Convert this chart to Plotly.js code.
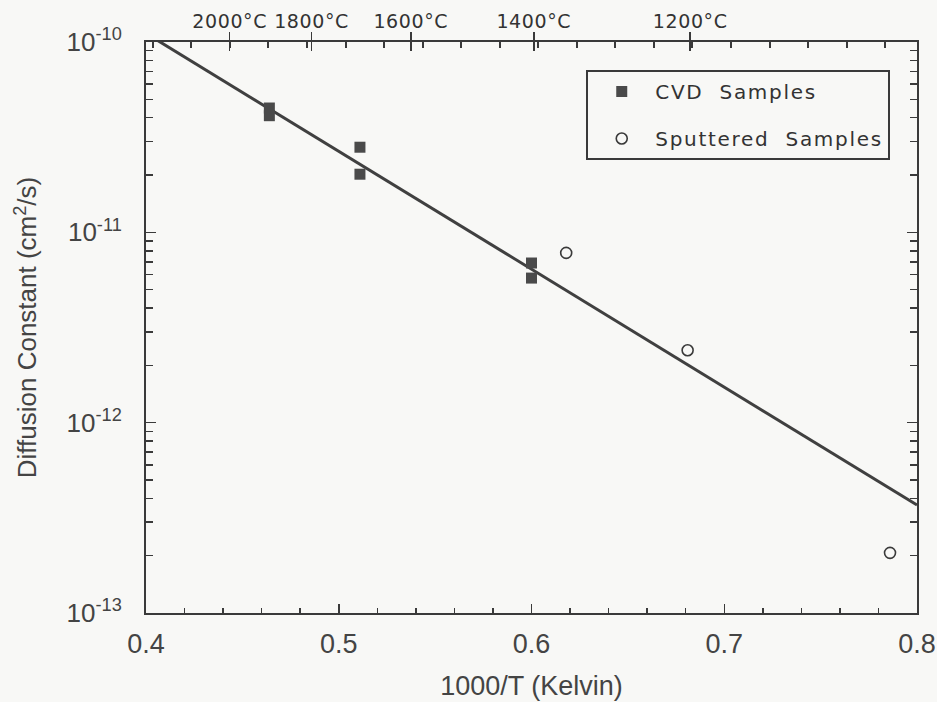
<!DOCTYPE html>
<html>
<head>
<meta charset="utf-8">
<script src="https://cdn.plot.ly/plotly-3.0.1.min.js"></script>
<style>
  html, body { margin: 0; padding: 0; background: #f8f8f6; }
  #chart { width: 937px; height: 702px; }
  .legendtext { letter-spacing: 1.7px; }
  .x2tick text { letter-spacing: 0.6px; }
</style>
</head>
<body>
<div id="chart"></div>
<script>
// ---- data ----
const cvdX = [0.464, 0.464, 0.511, 0.511, 0.600, 0.600];
const cvdY = [4.5e-11, 4.1e-11, 2.8e-11, 2.02e-11, 6.9e-12, 5.75e-12];
const sputX = [0.618, 0.681, 0.786];
const sputY = [7.8e-12, 2.4e-12, 2.07e-13];
const fitX = [0.40, 0.80];
const fitY = [1.11e-10, 3.69e-13];
const tempsC = [2000, 1800, 1600, 1400, 1200];
const tempLabels = ["2000°C", "1800°C", "1600°C", "1400°C", "1200°C"];
const yTickVals = [1e-13, 1e-12, 1e-11, 1e-10];
const yTickText = ["10<sup>-13</sup>", "10<sup>-12</sup>", "10<sup>-11</sup>", "10<sup>-10</sup>"];
const xTickVals = [0.4, 0.5, 0.6, 0.7, 0.8];
const xTickText = ["0.4", "0.5", "0.6", "0.7", "0.8"];

const tempX = tempsC.map(t => 1000 / (t + 273.15));

const ink = '#3a3a3a';
const font = 'Liberation Sans, Arial, sans-serif';

const traces = [
  { x: fitX, y: fitY, mode: 'lines', line: { color: '#404040', width: 3 }, showlegend: false, hoverinfo: 'skip' },
  { x: cvdX, y: cvdY, mode: 'markers', name: 'CVD  Samples', legendgroup: 'a',
    marker: { symbol: 'square', size: 11, color: '#4a4a4a', line: { width: 0 } } },
  { x: sputX, y: sputY, mode: 'markers', name: 'Sputtered  Samples', legendgroup: 'b',
    marker: { symbol: 'circle-open', size: 11, color: '#3a3a3a', line: { width: 1.6 } } },
  // invisible traces hosting the top temperature axes
  { x: [0.5], y: [1e-11], xaxis: 'x2', mode: 'markers', marker: { opacity: 0 }, showlegend: false, hoverinfo: 'skip' },
  { x: [0.5], y: [1e-11], xaxis: 'x3', mode: 'markers', marker: { opacity: 0 }, showlegend: false, hoverinfo: 'skip' }
];

const shift = 0.0035;
const layout = {
  width: 937, height: 702,
  margin: { l: 146, r: 20, t: 42, b: 89 },
  paper_bgcolor: '#f8f8f6', plot_bgcolor: '#f8f8f6',
  font: { family: font, color: ink },
  showlegend: true,
  legend: {
    x: 0.571, y: 0.951, xanchor: 'left', yanchor: 'top',
    bgcolor: '#f8f8f6', bordercolor: '#3a3a3a', borderwidth: 2,
    font: { family: 'DejaVu Sans, sans-serif', size: 20, color: '#333' },
    tracegroupgap: 18, itemwidth: 57
  },
  xaxis: {
    range: [0.4, 0.8], tickmode: 'array', tickvals: xTickVals, ticktext: xTickText,
    ticks: 'inside', ticklen: 9, tickwidth: 1.5, tickcolor: ink,
    minor: { ticks: 'inside', dtick: 0.02, tick0: 0.4, ticklen: 5, tickwidth: 1.5, tickcolor: ink },
    showline: true, linecolor: ink, linewidth: 2, mirror: true,
    showgrid: false, zeroline: false,
    tickfont: { size: 27, color: '#444' }, ticklabelstandoff: 6,
    title: { text: '1000/T (Kelvin)', font: { size: 27, color: '#444' }, standoff: 18 }
  },
  xaxis2: {
    overlaying: 'x', side: 'top', anchor: 'y',
    range: [0.4 - shift, 0.8 - shift], tickmode: 'array', tickvals: tempX, ticktext: tempLabels,
    ticks: 'outside', ticklen: 9, tickwidth: 1.5, tickcolor: ink,
    minor: { ticks: 'inside', dtick: 0.02, tick0: 0.4, ticklen: 6, tickwidth: 2, tickcolor: ink },
    showline: false, showgrid: false, zeroline: false,
    tickfont: { family: 'DejaVu Sans, sans-serif', size: 19, color: '#333' }, ticklabelstandoff: -4
  },
  xaxis3: {
    overlaying: 'x', side: 'top', anchor: 'y',
    range: [0.4 - shift, 0.8 - shift], tickmode: 'array', tickvals: tempX,
    ticks: 'inside', ticklen: 9, tickwidth: 1.5, tickcolor: ink,
    showticklabels: false, showline: false, showgrid: false, zeroline: false
  },
  yaxis: {
    type: 'log', range: [-13, -10], tickmode: 'array', tickvals: yTickVals, ticktext: yTickText,
    ticks: 'inside', ticklen: 10, tickwidth: 1.5, tickcolor: ink,
    minor: { ticks: 'inside', dtick: 'D1', ticklen: 7, tickwidth: 1.5, tickcolor: ink },
    showline: true, linecolor: ink, linewidth: 2, mirror: 'ticks',
    showgrid: false, zeroline: false,
    tickfont: { size: 26, color: '#444' }, ticklabelstandoff: 17,
    title: { text: 'Diffusion Constant (cm<sup>2</sup>/s)', font: { size: 26, color: '#444' }, standoff: 22 }
  }
};

Plotly.newPlot('chart', traces, layout, { displayModeBar: false, staticPlot: true });
</script>
</body>
</html>
